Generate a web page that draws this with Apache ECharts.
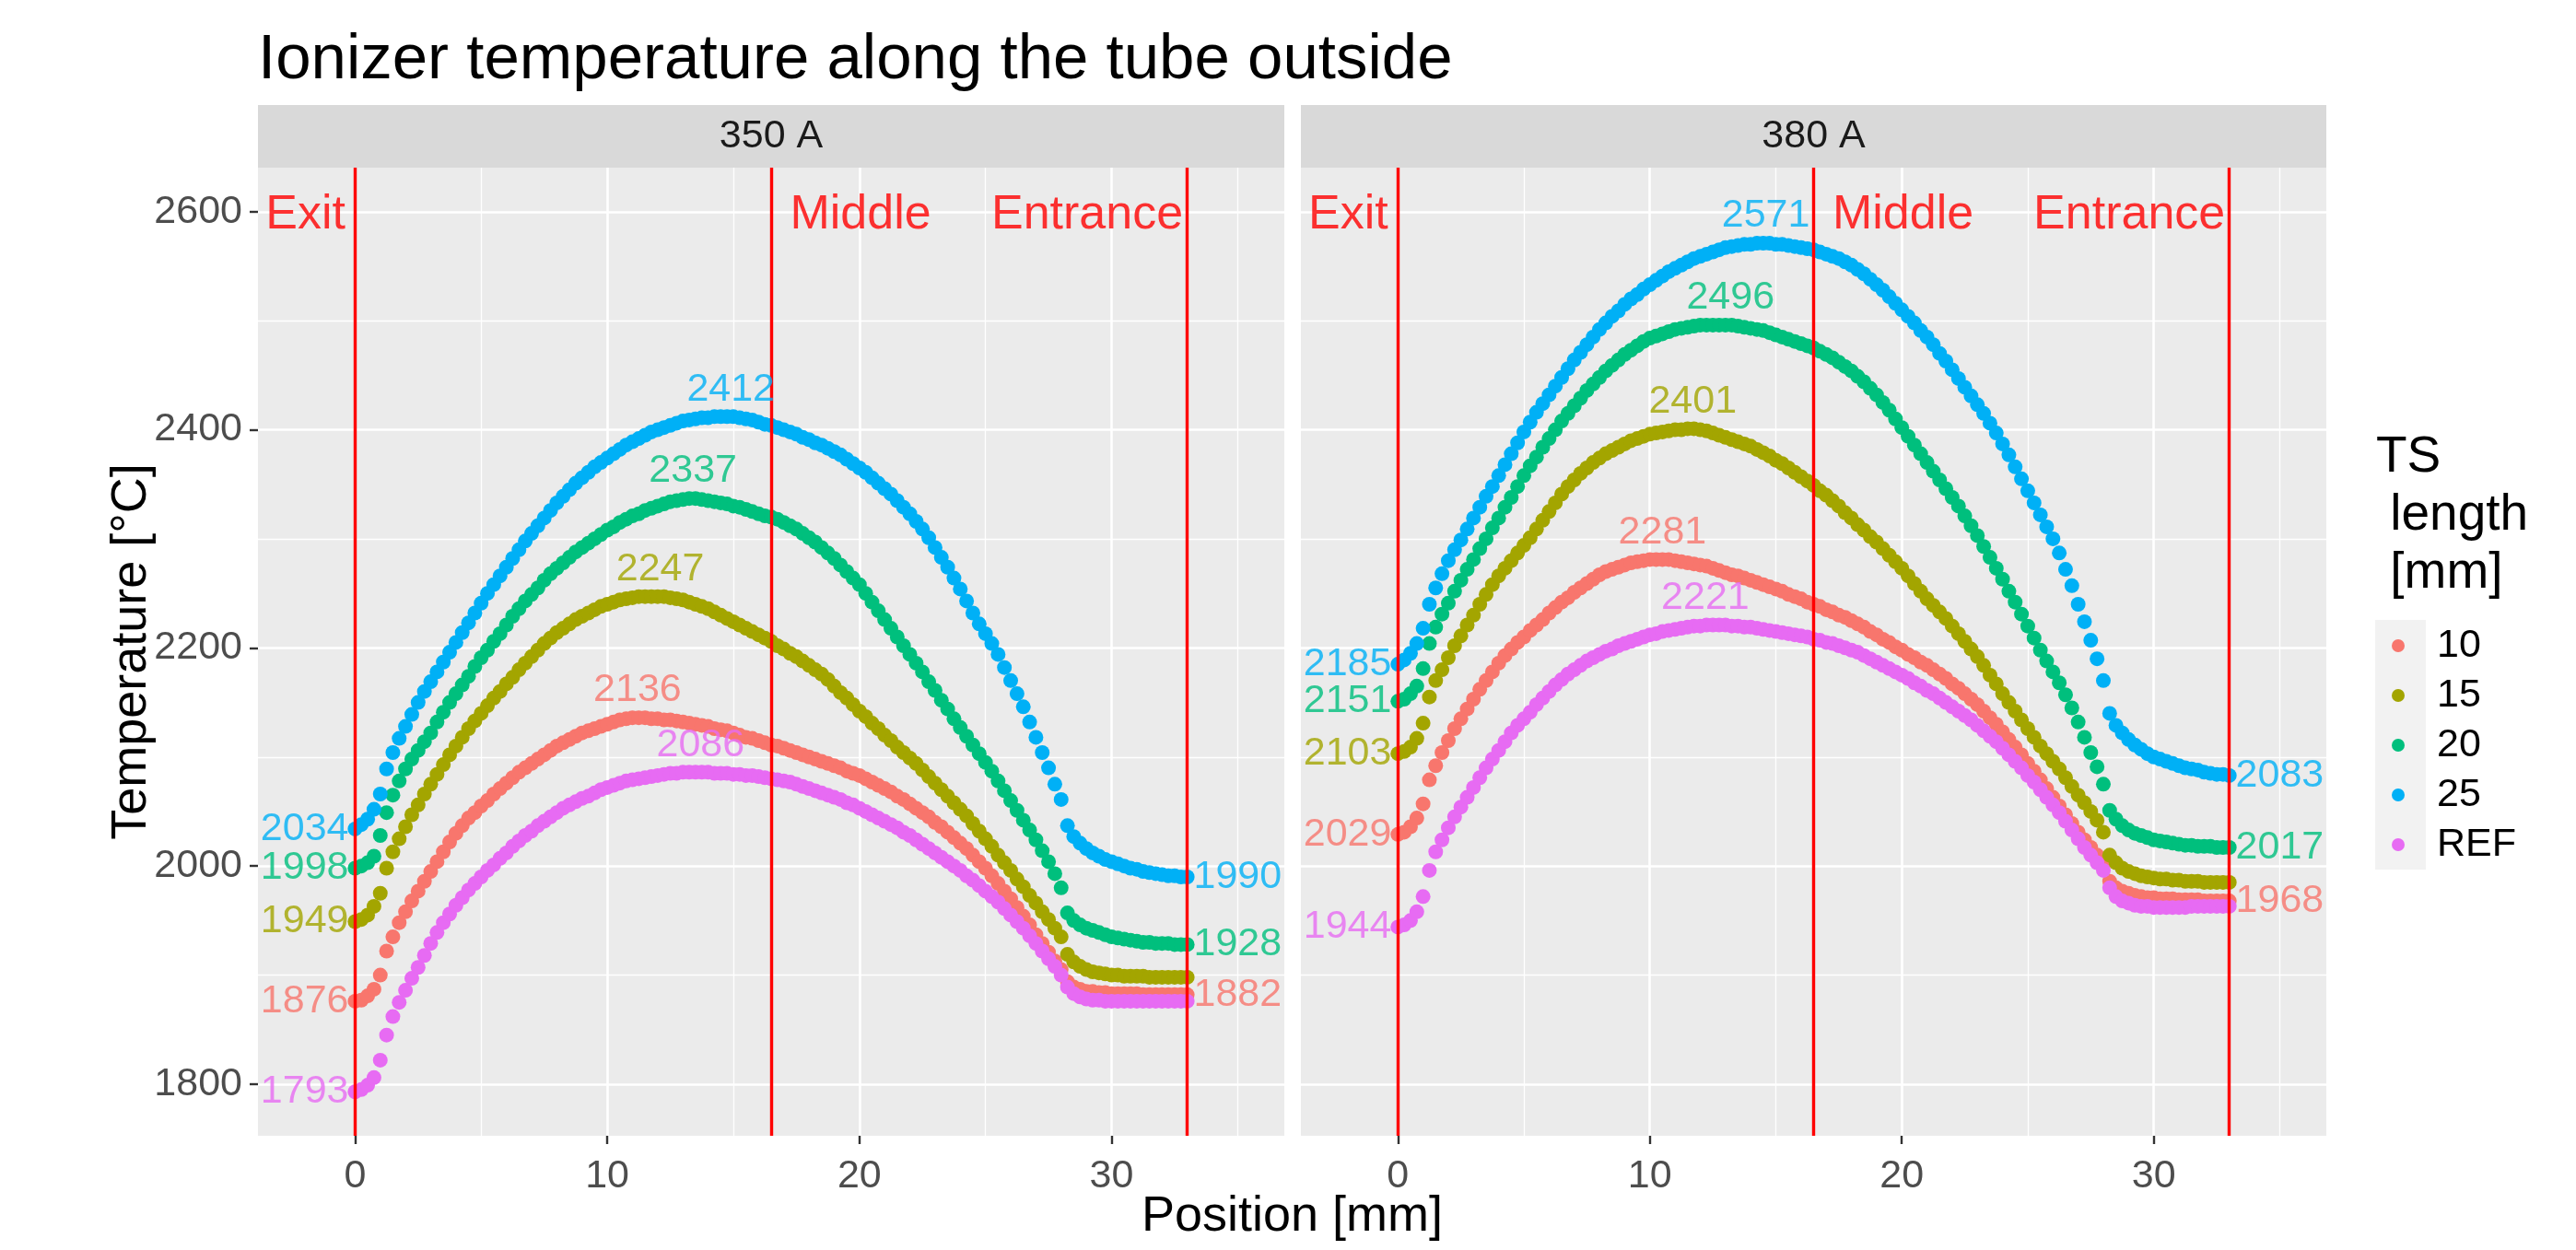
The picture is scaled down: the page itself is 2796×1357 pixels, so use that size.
<!DOCTYPE html>
<html>
<head>
<meta charset="utf-8">
<title>Ionizer temperature along the tube outside</title>
<script src="https://cdn.jsdelivr.net/npm/echarts@6/dist/echarts.min.js"></script>
<style>
  html, body { margin: 0; padding: 0; background: #ffffff; }
  #chart { width: 2796px; height: 1357px; }
</style>
</head>
<body>
<div id="chart"></div>
<script>
// position along the tube [mm]
const positions = [
  0, 0.25, 0.5, 0.75, 1, 1.25, 1.5, 1.75,
  2, 2.25, 2.5, 2.75, 3, 3.25, 3.5, 3.75,
  4, 4.25, 4.5, 4.75, 5, 5.25, 5.5, 5.75,
  6, 6.25, 6.5, 6.75, 7, 7.25, 7.5, 7.75,
  8, 8.25, 8.5, 8.75, 9, 9.25, 9.5, 9.75,
  10, 10.25, 10.5, 10.75, 11, 11.25, 11.5, 11.75,
  12, 12.25, 12.5, 12.75, 13, 13.25, 13.5, 13.75,
  14, 14.25, 14.5, 14.75, 15, 15.25, 15.5, 15.75,
  16, 16.25, 16.5, 16.75, 17, 17.25, 17.5, 17.75,
  18, 18.25, 18.5, 18.75, 19, 19.25, 19.5, 19.75,
  20, 20.25, 20.5, 20.75, 21, 21.25, 21.5, 21.75,
  22, 22.25, 22.5, 22.75, 23, 23.25, 23.5, 23.75,
  24, 24.25, 24.5, 24.75, 25, 25.25, 25.5, 25.75,
  26, 26.25, 26.5, 26.75, 27, 27.25, 27.5, 27.75,
  28, 28.25, 28.5, 28.75, 29, 29.25, 29.5, 29.75,
  30, 30.25, 30.5, 30.75, 31, 31.25, 31.5, 31.75,
  32, 32.25, 32.5, 32.75, 33
]

// 350 A, temperature [°C] per TS length
const t350_10 = [
  1876, 1877, 1881, 1887, 1900, 1922, 1935, 1948,
  1958, 1968, 1977, 1986, 1995, 2004, 2013, 2022,
  2030, 2037, 2044, 2049, 2055, 2060, 2066, 2071,
  2076, 2081, 2086, 2090, 2094, 2098, 2102, 2106,
  2110, 2113, 2116, 2119, 2122, 2124, 2126, 2128,
  2130, 2132, 2134, 2135, 2136, 2136, 2136, 2135,
  2135, 2134, 2134, 2133, 2132, 2131, 2130, 2129,
  2128, 2126, 2125, 2124, 2122, 2120, 2118, 2117,
  2115, 2113, 2111, 2110, 2108, 2106, 2104, 2102,
  2100, 2098, 2096, 2094, 2092, 2090, 2087, 2085,
  2083, 2080, 2077, 2074, 2071, 2068, 2064, 2061,
  2057, 2053, 2049, 2045, 2040, 2036, 2031, 2026,
  2021, 2016, 2010, 2004, 1998, 1991, 1984, 1977,
  1970, 1962, 1954, 1946, 1937, 1929, 1921, 1913,
  1905, 1894, 1889, 1887, 1885, 1885, 1884, 1884,
  1883, 1883, 1883, 1883, 1883, 1882, 1882, 1882,
  1882, 1882, 1882, 1882, 1882
]
const t350_15 = [
  1949, 1951, 1955, 1963, 1975, 1998, 2013, 2025,
  2036, 2047, 2056, 2066, 2075, 2084, 2093, 2102,
  2110, 2118, 2126, 2133, 2140, 2147, 2154, 2160,
  2167, 2173, 2180, 2186, 2192, 2198, 2204, 2209,
  2214, 2218, 2222, 2226, 2229, 2232, 2235, 2238,
  2240, 2242, 2244, 2245, 2246, 2247, 2247, 2247,
  2247, 2247, 2246, 2245, 2244, 2242, 2240, 2238,
  2236, 2233, 2230, 2227, 2224, 2221, 2218, 2215,
  2212, 2209, 2206, 2202, 2199, 2195, 2192, 2188,
  2184, 2180, 2176, 2171, 2165, 2159, 2154, 2148,
  2142, 2137, 2131, 2126, 2120, 2115, 2109, 2104,
  2099, 2094, 2088, 2082, 2076, 2070, 2064, 2058,
  2052, 2046, 2039, 2032, 2025, 2018, 2010, 2003,
  1996, 1988, 1981, 1973, 1966, 1958, 1951, 1943,
  1935, 1919, 1912, 1908, 1905, 1903, 1902, 1901,
  1900, 1900, 1899, 1899, 1899, 1899, 1898, 1898,
  1898, 1898, 1898, 1898, 1898
]
const t350_20 = [
  1998, 2000, 2003, 2009, 2028, 2049, 2065, 2078,
  2089, 2098, 2106, 2114, 2122, 2132, 2141, 2150,
  2158, 2166, 2174, 2183, 2191, 2198, 2206, 2213,
  2221, 2229, 2236, 2243, 2249, 2255, 2262, 2268,
  2273, 2278, 2283, 2288, 2292, 2296, 2300, 2304,
  2308, 2311, 2315, 2318, 2321, 2323, 2326, 2328,
  2330, 2332, 2334, 2335, 2336, 2337, 2337, 2336,
  2335, 2334, 2333, 2332, 2330, 2329, 2327, 2325,
  2323, 2321, 2320, 2318, 2315, 2312, 2309, 2305,
  2301, 2297, 2292, 2287, 2282, 2276, 2270, 2264,
  2258, 2250, 2242, 2234, 2226, 2218, 2210, 2202,
  2194, 2186, 2178, 2169, 2161, 2152, 2144, 2135,
  2127, 2119, 2111, 2103, 2095, 2087, 2078, 2069,
  2060, 2051, 2042, 2033, 2024, 2014, 2004, 1993,
  1980, 1957, 1950, 1946, 1943, 1941, 1939, 1937,
  1935, 1934, 1933, 1932, 1931, 1930, 1930, 1929,
  1929, 1929, 1928, 1928, 1928
]
const t350_25 = [
  2034, 2038, 2043, 2052, 2066, 2089, 2104, 2117,
  2128, 2139, 2150, 2160, 2169, 2178, 2187, 2196,
  2205, 2214, 2223, 2232, 2241, 2250, 2258, 2266,
  2274, 2282, 2290, 2298, 2305, 2312, 2319, 2326,
  2333, 2339, 2345, 2351, 2356, 2361, 2366, 2370,
  2374, 2378, 2382, 2386, 2389, 2392, 2395, 2398,
  2400, 2402, 2404, 2406, 2408, 2409, 2410, 2411,
  2411, 2412, 2412, 2412, 2412, 2411, 2410, 2409,
  2407, 2405, 2404, 2402, 2400, 2398, 2396, 2393,
  2391, 2388, 2386, 2383, 2380, 2377, 2373, 2369,
  2365, 2361, 2356, 2351, 2346, 2341, 2335, 2329,
  2323, 2316, 2309, 2301, 2292, 2283, 2274, 2264,
  2254, 2243, 2232, 2222, 2213, 2204, 2194, 2182,
  2170, 2158, 2146, 2132, 2118, 2104, 2090, 2075,
  2061, 2037, 2027, 2021, 2016, 2012, 2009, 2006,
  2004, 2002, 2000, 1998, 1997, 1995, 1994, 1993,
  1992, 1991, 1991, 1990, 1990
]
const t350_ref = [
  1793, 1795, 1799, 1806, 1822, 1845, 1862, 1875,
  1886, 1897, 1907, 1918, 1929, 1939, 1948, 1956,
  1964, 1971, 1978, 1984, 1990, 1996, 2001, 2007,
  2012, 2018, 2023, 2028, 2032, 2037, 2041, 2045,
  2049, 2053, 2056, 2059, 2062, 2064, 2067, 2070,
  2072, 2074, 2076, 2078, 2079, 2080, 2081, 2082,
  2083, 2084, 2085, 2085, 2086, 2086, 2086, 2086,
  2086, 2085, 2085, 2085, 2084, 2084, 2083, 2083,
  2082, 2081, 2080, 2079, 2078, 2077, 2075, 2073,
  2071, 2069, 2067, 2065, 2063, 2061, 2058, 2056,
  2053, 2050, 2047, 2044, 2041, 2038, 2035, 2031,
  2028, 2024, 2020, 2016, 2012, 2008, 2004, 2000,
  1996, 1991, 1987, 1982, 1977, 1972, 1967, 1961,
  1955, 1949, 1943, 1936, 1929, 1922, 1915, 1908,
  1900, 1889, 1883, 1880, 1878, 1877, 1877, 1876,
  1876, 1876, 1876, 1876, 1876, 1876, 1876, 1876,
  1876, 1876, 1876, 1876, 1876
]

// 380 A
const t380_10 = [
  2029, 2031, 2036, 2044, 2057, 2079, 2092, 2104,
  2115, 2126, 2135, 2144, 2153, 2162, 2170, 2178,
  2186, 2193, 2199, 2205, 2210, 2216, 2221, 2226,
  2232, 2237, 2242, 2246, 2251, 2255, 2259, 2263,
  2267, 2270, 2272, 2274, 2276, 2278, 2279, 2280,
  2281, 2281, 2281, 2281, 2280, 2279, 2278, 2277,
  2276, 2275, 2273, 2271, 2269, 2267, 2266, 2264,
  2262, 2260, 2258, 2256, 2254, 2252, 2249, 2247,
  2245, 2242, 2240, 2238, 2235, 2233, 2230, 2228,
  2225, 2222, 2219, 2215, 2212, 2208, 2205, 2201,
  2198, 2194, 2191, 2187, 2184, 2180, 2176, 2172,
  2167, 2163, 2158, 2153, 2148, 2142, 2136, 2130,
  2123, 2116, 2109, 2102, 2094, 2087, 2079, 2071,
  2063, 2055, 2047, 2039, 2031, 2024, 2017, 2010,
  2001, 1986, 1980, 1977, 1975, 1973, 1972, 1971,
  1971, 1970, 1970, 1970, 1969, 1969, 1969, 1969,
  1968, 1968, 1968, 1968, 1968
]
const t380_15 = [
  2103, 2105, 2109, 2117, 2131, 2155, 2170, 2180,
  2191, 2202, 2211, 2221, 2230, 2240, 2249, 2258,
  2266, 2273, 2280, 2287, 2294, 2301, 2309, 2317,
  2325, 2333, 2341, 2348, 2354, 2360, 2365, 2370,
  2374, 2378, 2381, 2384, 2387, 2390, 2392, 2394,
  2396, 2397, 2398, 2399, 2400, 2400, 2401, 2401,
  2400, 2399, 2397, 2395, 2393, 2391, 2389, 2387,
  2385, 2382, 2379, 2376, 2372, 2369, 2365, 2361,
  2357, 2353, 2349, 2344, 2340, 2335, 2330, 2324,
  2319, 2313, 2308, 2302, 2297, 2291, 2285, 2279,
  2273, 2266, 2259, 2252, 2245, 2239, 2233, 2227,
  2220, 2213, 2206, 2199, 2192, 2184, 2175, 2167,
  2158, 2150, 2142, 2134, 2126, 2118, 2110, 2103,
  2096, 2089, 2081, 2073, 2065, 2058, 2050, 2042,
  2031, 2010, 2003, 1998, 1995, 1993, 1991, 1990,
  1989, 1988, 1988, 1987, 1987, 1986, 1986, 1986,
  1985, 1985, 1985, 1985, 1985
]
const t380_20 = [
  2151, 2153, 2158, 2165, 2181, 2204, 2219, 2231,
  2241, 2252, 2262, 2272, 2281, 2291, 2300, 2310,
  2319, 2329, 2338, 2348, 2358, 2367, 2375, 2384,
  2392, 2400, 2408, 2415, 2422, 2429, 2436, 2442,
  2448, 2454, 2459, 2464, 2469, 2473, 2477, 2481,
  2484, 2486, 2488, 2490, 2492, 2493, 2494, 2495,
  2496, 2496, 2496, 2496, 2496, 2496, 2495, 2494,
  2493, 2492, 2491, 2489, 2487, 2485, 2483, 2481,
  2479, 2477, 2475, 2472, 2469, 2466, 2462, 2458,
  2454, 2449, 2444, 2438, 2432, 2425, 2418, 2410,
  2402, 2394, 2386, 2378, 2370, 2362, 2354, 2346,
  2338, 2330, 2321, 2312, 2303, 2293, 2283, 2273,
  2263, 2252, 2242, 2231, 2220, 2209, 2198, 2188,
  2178, 2168, 2157, 2145, 2132, 2118, 2104, 2091,
  2075, 2051, 2043, 2037, 2033, 2030, 2028, 2026,
  2024, 2023, 2022, 2021, 2020, 2019, 2019, 2018,
  2018, 2018, 2017, 2017, 2017
]
const t380_25 = [
  2185, 2189, 2195, 2204, 2218, 2240, 2255, 2268,
  2280, 2290, 2299, 2309, 2319, 2329, 2339, 2348,
  2358, 2368, 2378, 2388, 2398, 2407, 2416, 2424,
  2432, 2440, 2448, 2456, 2464, 2471, 2478, 2485,
  2492, 2498, 2504, 2509, 2515, 2520, 2524, 2529,
  2533, 2537, 2541, 2545, 2548, 2551, 2554, 2557,
  2559, 2561, 2563, 2565, 2567, 2568, 2569, 2570,
  2570, 2571, 2571, 2571, 2570, 2570, 2569, 2568,
  2567, 2566, 2565, 2563, 2561, 2559, 2557, 2554,
  2551, 2547, 2543, 2538, 2533, 2528, 2522, 2516,
  2510, 2504, 2498, 2491, 2485, 2478, 2470, 2463,
  2455, 2447, 2439, 2431, 2423, 2415, 2406, 2397,
  2387, 2377, 2366, 2355, 2344, 2333, 2322, 2311,
  2300, 2287, 2272, 2257, 2240, 2224, 2207, 2190,
  2170, 2140, 2129, 2122, 2116, 2111, 2107, 2103,
  2100, 2098, 2096, 2094, 2092, 2090, 2089, 2088,
  2086, 2085, 2084, 2084, 2083
]
const t380_ref = [
  1944, 1946, 1950, 1958, 1972, 1996, 2013, 2024,
  2035, 2045, 2054, 2063, 2072, 2081, 2090, 2098,
  2106, 2114, 2122, 2129, 2135, 2141, 2148, 2154,
  2160, 2166, 2171, 2176, 2180, 2184, 2188, 2191,
  2194, 2197, 2199, 2202, 2204, 2206, 2208, 2210,
  2212, 2213, 2215, 2216, 2217, 2218, 2219, 2220,
  2220, 2221, 2221, 2221, 2221, 2220, 2220, 2219,
  2219, 2218, 2217, 2216, 2215, 2214, 2213, 2212,
  2211, 2210, 2208, 2207, 2205, 2204, 2202, 2200,
  2198, 2196, 2193, 2190, 2187, 2184, 2181, 2178,
  2175, 2172, 2168, 2165, 2161, 2158, 2154, 2150,
  2146, 2142, 2138, 2134, 2129, 2124, 2119, 2114,
  2108, 2102, 2096, 2090, 2083, 2077, 2070, 2063,
  2056, 2049, 2041, 2033, 2025, 2017, 2010, 2003,
  1996, 1980, 1972, 1968, 1966, 1964, 1963, 1963,
  1962, 1962, 1962, 1962, 1962, 1962, 1963, 1963,
  1963, 1963, 1963, 1963, 1963
]

// peak annotations: position of the maximum [mm] and its value [°C]
const peakPos350 = [11.2, 12.1, 13.4, 14.9, 13.7]
const peakTemp350 = [2136, 2247, 2337, 2412, 2086]
const peakPos380 = [10.5, 11.7, 13.2, 14.6, 12.2]
const peakTemp380 = [2281, 2401, 2496, 2571, 2221]
// end labels that survive the overlap check
const endShown350 = ['10', '20', '25']
const endShown380 = ['10', '20', '25']

const seriesNames = ['10', '15', '20', '25', 'REF']
const seriesColors = ['#F8766D', '#A3A500', '#00BF7D', '#00B0F6', '#E76BF3']
const currents = ['350 A', '380 A']

const zoneBounds = [0, 16.5, 33]
const zoneNames = ['Exit', 'Middle', 'Entrance']
const zoneLabelTemp = 2600

const xTicks = [0, 10, 20, 30]
const xMinor = [5, 15, 25, 35]
const yTicks = [1800, 2000, 2200, 2400, 2600]
const yMinor = [1900, 2100, 2300, 2500]

const FONT = 'Liberation Sans, Arial, Helvetica, sans-serif'
const LABEL_NUDGE_X = 2
const PEAK_NUDGE_Y = 25

const panels = [
  { current: currents[0], temps: [t350_10, t350_15, t350_20, t350_25, t350_ref], peakPos: peakPos350, peakTemp: peakTemp350, endShown: endShown350 },
  { current: currents[1], temps: [t380_10, t380_15, t380_20, t380_25, t380_ref], peakPos: peakPos380, peakTemp: peakTemp380, endShown: endShown380 }
]

// ggplot-like 5% expansion of the trained ranges
const xLabelLeft = zoneBounds[0] - LABEL_NUDGE_X
const xLabelRight = zoneBounds[zoneBounds.length - 1] + LABEL_NUDGE_X
const xPad = (xLabelRight - xLabelLeft) * 0.05
const xMin = xLabelLeft - xPad
const xMax = xLabelRight + xPad
const allTemps = panels.flatMap((p) => p.temps.flat())
const yLo = Math.min(...allTemps)
const yHi = Math.max(zoneLabelTemp, ...panels.flatMap((p) => p.peakTemp.map((v) => v + PEAK_NUDGE_Y)))
const yPad = (yHi - yLo) * 0.05
const yMin = yLo - yPad
const yMax = yHi + yPad

const panelLeft = [280, 1412]
const panelWidth = [1114, 1113]
const PANEL_TOP = 182
const PANEL_H = 1051
const STRIP_TOP = 114
const STRIP_H = 68

const tickStyle = { color: '#333333', width: 2.4 }
const labelStyle = { fontSize: 43, color: '#4D4D4D', fontFamily: FONT }
const plainNumber = (v) => String(v)

const makeXAxis = (gridIndex, values, major) => ({
  type: 'value',
  gridIndex,
  min: xMin,
  max: xMax,
  position: 'bottom',
  axisLine: { show: false, onZero: false },
  axisTick: { show: major, customValues: values, length: 9, lineStyle: tickStyle },
  axisLabel: { show: major, customValues: values, margin: 23, formatter: plainNumber, ...labelStyle },
  splitLine: { show: true, lineStyle: { color: '#FFFFFF', width: major ? 2.6 : 1.3 } }
})

const makeYAxis = (gridIndex, values, major) => ({
  type: 'value',
  gridIndex,
  min: yMin,
  max: yMax,
  position: 'left',
  axisLine: { show: false, onZero: false },
  axisTick: { show: major && gridIndex === 0, customValues: values, length: 9, lineStyle: tickStyle },
  axisLabel: { show: major && gridIndex === 0, customValues: values, margin: 17, formatter: plainNumber, ...labelStyle },
  splitLine: { show: true, lineStyle: { color: '#FFFFFF', width: major ? 2.6 : 1.3 } }
})

const xAxis = [makeXAxis(0, xTicks, true), makeXAxis(1, xTicks, true), makeXAxis(0, xMinor, false), makeXAxis(1, xMinor, false)]
const yAxis = [makeYAxis(0, yTicks, true), makeYAxis(1, yTicks, true), makeYAxis(0, yMinor, false), makeYAxis(1, yMinor, false)]

const series = []
panels.forEach((p, pi) => {
  p.temps.forEach((t, k) => {
    series.push({
      type: 'scatter',
      name: seriesNames[k],
      xAxisIndex: pi,
      yAxisIndex: pi,
      symbol: 'circle',
      symbolSize: 16,
      itemStyle: { color: seriesColors[k], opacity: 1 },
      emphasis: { disabled: true },
      z: 2,
      data: positions.map((x, i) => [x, t[i]])
    })
  })

  const labelData = []
  p.temps.forEach((t, k) => {
    const color = seriesColors[k]
    labelData.push({ value: [xLabelLeft, t[0], t[0]], label: { color } })
    labelData.push({ value: [p.peakPos[k], p.peakTemp[k] + PEAK_NUDGE_Y, p.peakTemp[k]], label: { color } })
    if (p.endShown.includes(seriesNames[k])) {
      const last = t[t.length - 1]
      labelData.push({ value: [xLabelRight, last, last], label: { color } })
    }
  })
  series.push({
    type: 'scatter',
    name: 'labels' + pi,
    xAxisIndex: pi,
    yAxisIndex: pi,
    symbolSize: 1,
    itemStyle: { color: 'rgba(0,0,0,0)' },
    silent: true,
    z: 6,
    label: {
      show: true,
      position: 'inside',
      fontSize: 43,
      fontFamily: FONT,
      formatter: (d) => String(d.value[2])
    },
    data: labelData
  })

  const zoneDist = [10, 20, 4]
  series.push({
    type: 'scatter',
    name: 'zones' + pi,
    xAxisIndex: pi,
    yAxisIndex: pi,
    symbolSize: 1,
    itemStyle: { color: 'rgba(0,0,0,0)' },
    silent: true,
    z: 6,
    label: {
      show: true,
      fontSize: 52,
      fontFamily: FONT,
      color: '#FF0000',
      offset: [0, 4],
      formatter: (d) => d.value[2]
    },
    data: zoneBounds.map((b, j) => ({
      value: [b, zoneLabelTemp, zoneNames[j]],
      label: { position: j === 1 ? 'right' : 'left', distance: zoneDist[j] }
    })),
    markLine: {
      silent: true,
      symbol: ['none', 'none'],
      label: { show: false },
      emphasis: { disabled: true },
      lineStyle: { color: '#FF0000', width: 3.4, type: 'solid' },
      data: zoneBounds.map((b) => ({ xAxis: b }))
    }
  })
})

const graphic = []
panels.forEach((p, i) => {
  graphic.push({
    type: 'rect',
    silent: true,
    shape: { x: panelLeft[i], y: STRIP_TOP, width: panelWidth[i], height: STRIP_H },
    style: { fill: '#D9D9D9' }
  })
  graphic.push({
    type: 'text',
    silent: true,
    x: panelLeft[i] + panelWidth[i] / 2,
    y: STRIP_TOP + STRIP_H / 2,
    style: {
      text: p.current, fontSize: 43, fontFamily: FONT, fill: '#1A1A1A',
      align: 'center', verticalAlign: 'middle', textAlign: 'center', textVerticalAlign: 'middle'
    }
  })
})
graphic.push({
  type: 'text',
  silent: true,
  x: 143,
  y: PANEL_TOP + PANEL_H / 2,
  rotation: Math.PI / 2,
  style: {
    text: 'Temperature [°C]', fontSize: 54, fontFamily: FONT, fill: '#000000',
    align: 'center', verticalAlign: 'middle', textAlign: 'center', textVerticalAlign: 'middle'
  }
})
graphic.push({
  type: 'text',
  silent: true,
  x: (panelLeft[0] + panelLeft[1] + panelWidth[1]) / 2,
  y: 1321,
  style: {
    text: 'Position [mm]', fontSize: 54, fontFamily: FONT, fill: '#000000',
    align: 'center', verticalAlign: 'middle', textAlign: 'center', textVerticalAlign: 'middle'
  }
})
// legend key background and legend title
graphic.push({
  type: 'rect',
  silent: true,
  shape: { x: 2578, y: 673, width: 55, height: 271 },
  style: { fill: '#F2F2F2' }
})
graphic.push({
  type: 'text',
  silent: true,
  x: 2579,
  y: 465,
  style: {
    text: 'TS\n length\n [mm]', fontSize: 55, lineHeight: 63, fontFamily: FONT, fill: '#000000',
    align: 'left', verticalAlign: 'top', textAlign: 'left', textVerticalAlign: 'top'
  }
})

const chart = echarts.init(document.getElementById('chart'))
chart.setOption({
  backgroundColor: '#FFFFFF',
  animation: false,
  textStyle: { fontFamily: FONT },
  title: {
    text: 'Ionizer temperature along the tube outside',
    left: 280,
    top: 31,
    padding: 0,
    textStyle: { fontSize: 69, fontWeight: 'normal', color: '#000000', fontFamily: FONT }
  },
  legend: {
    data: seriesNames,
    orient: 'vertical',
    left: 2596,
    top: 674,
    padding: 0,
    itemWidth: 14,
    itemHeight: 14,
    itemGap: 0,
    icon: 'circle',
    selectedMode: false,
    textStyle: { fontSize: 43, lineHeight: 54, color: '#000000', fontFamily: FONT, padding: [0, 0, 0, 30] }
  },
  grid: panels.map((p, i) => ({
    left: panelLeft[i],
    top: PANEL_TOP,
    width: panelWidth[i],
    height: PANEL_H,
    show: true,
    backgroundColor: '#EBEBEB',
    borderWidth: 0
  })),
  xAxis,
  yAxis,
  series,
  graphic
})
</script>
</body>
</html>
